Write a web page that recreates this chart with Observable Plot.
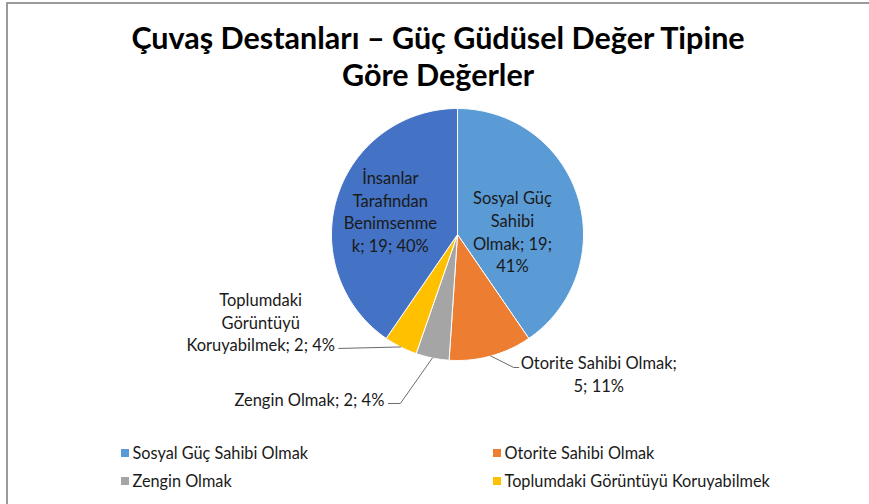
<!DOCTYPE html>
<html><head><meta charset="utf-8">
<script src="https://cdn.jsdelivr.net/npm/d3@7"></script>
<script src="https://cdn.jsdelivr.net/npm/@observablehq/plot@0.6"></script>
<style>
body{margin:0;background:#fff;}
#chart{position:relative;width:869px;height:504px;overflow:hidden;background:#fff;}
#frame{position:absolute;left:6px;top:2px;right:-4px;bottom:-4px;border-top:2px solid #9a9a9a;border-left:2px solid #9a9a9a;pointer-events:none;}
#chart svg{position:absolute;left:0;top:0;}
</style></head><body><div id="chart"><div id="frame"></div></div>
<script>
// ---- data ----
const categories = ["Sosyal Güç Sahibi Olmak", "Otorite Sahibi Olmak", "Zengin Olmak", "Toplumdaki Görüntüyü Koruyabilmek", "İnsanlar Tarafından Benimsenmek"];
const values = [19, 5, 2, 2, 19];
const percents = [41, 11, 4, 4, 40];
const colors = ["#5B9BD5", "#ED7D31", "#A5A5A5", "#FFC000", "#4472C4"];
const labelLines = [
  ["Sosyal Güç", "Sahibi", "Olmak; 19;", "41%"],
  ["Otorite Sahibi Olmak;", "5; 11%"],
  ["Zengin Olmak; 2; 4%"],
  ["Toplumdaki", "Görüntüyü", "Koruyabilmek; 2; 4%"],
  ["İnsanlar", "Tarafından", "Benimsenme", "k; 19; 40%"]
];
const titleLines = ["Çuvaş Destanları – Güç Güdüsel Değer Tipine", "Göre Değerler"];
const legendCategories = categories.slice(0, 4);

// ---- layout ----
const W = 869, H = 504;
const cx = 457, cy = 234, R = 126;
const font = "Lato, 'Open Sans', sans-serif";
// inside labels: radial factor + nudge ; outside labels: leader elbow/tail + label offset
const labelLayout = [
  {inside: true, k: 0.44, dx: 2, dy: 13},
  {inside: false, elbow: [23, 11.5], tail: [5, 0], off: [80, 5.5]},
  {inside: false, elbow: [-32, 45.5], tail: [-12, 0], off: [-79, -5]},
  {inside: false, elbow: [-62, 1.5], tail: [0, 0], off: [-78, -27]},
  {inside: true, k: 0.55, dx: -1, dy: -3}
];

const arcs = d3.pie().sort(null).value(d => d)(values);
const pt = (a, rr) => [cx + rr * Math.sin(a), cy - rr * Math.cos(a)];

// slice polygons
const slices = [];
arcs.forEach((a, i) => {
  slices.push({cat: categories[i], x: cx, y: cy});
  const n = Math.max(2, Math.ceil((a.endAngle - a.startAngle) / (Math.PI / 180)));
  for (let j = 0; j <= n; j++) {
    const t = a.startAngle + (a.endAngle - a.startAngle) * j / n;
    const [x, y] = pt(t, R);
    slices.push({cat: categories[i], x, y});
  }
  slices.push({cat: categories[i], x: cx, y: cy});
});

// labels and leaders
const labels = [], leaders = [];
arcs.forEach((a, i) => {
  const m = (a.startAngle + a.endAngle) / 2;
  const L = labelLayout[i];
  const text = labelLines[i].join("\n");
  if (L.inside) {
    const [x, y] = pt(m, L.k * R);
    labels.push({x: x + L.dx, y: y + L.dy, text});
  } else {
    const [ex, ey] = pt(m, R);
    const b = [ex + L.elbow[0], ey + L.elbow[1]];
    const t = [b[0] + L.tail[0], b[1] + L.tail[1]];
    leaders.push({id: i, x: ex, y: ey}, {id: i, x: b[0], y: b[1]}, {id: i, x: t[0], y: t[1]});
    labels.push({x: t[0] + L.off[0], y: t[1] + L.off[1], text});
  }
});

// legend
const legColX = [121, 493], legRowY = [453, 481], sq = 8;
const legend = legendCategories.map((c, i) => {
  const x = legColX[i % 2], y = legRowY[Math.floor(i / 2)];
  return {cat: c, x1: x, x2: x + sq, y1: y - sq / 2, y2: y + sq / 2, tx: x + sq + 3, ty: y};
});

const plot = Plot.plot({
  width: W, height: H,
  margin: 0,
  x: {domain: [0, W], range: [0, W], axis: null},
  y: {domain: [0, H], range: [0, H], axis: null},
  color: {domain: categories, range: colors},
  style: {background: "transparent", fontFamily: font},
  marks: [
    Plot.line(slices, {x: "x", y: "y", z: "cat", fill: "cat", stroke: "white", strokeWidth: 1, strokeLinejoin: "round"}),
    Plot.line(leaders, {x: "x", y: "y", z: "id", stroke: "#6b6b6b", strokeWidth: 1}),
    Plot.text(labels, {x: "x", y: "y", text: "text", fontSize: 16.5, lineHeight: 1.37, fill: "#1a1a1a", textAnchor: "middle", lineAnchor: "middle"}),
    Plot.text([titleLines.join("\n")], {frameAnchor: "top", dy: 23, dx: 3, text: d => d, fontSize: 30.5, fontWeight: "bold", lineHeight: 1.19, fill: "#000", lineAnchor: "top"}),
    Plot.rect(legend, {x1: "x1", x2: "x2", y1: "y1", y2: "y2", fill: "cat"}),
    Plot.text(legend, {x: "tx", y: "ty", text: "cat", textAnchor: "start", fontSize: 16.3, fill: "#1a1a1a"})
  ]
});
document.getElementById("chart").appendChild(plot);
</script>
</body></html>
